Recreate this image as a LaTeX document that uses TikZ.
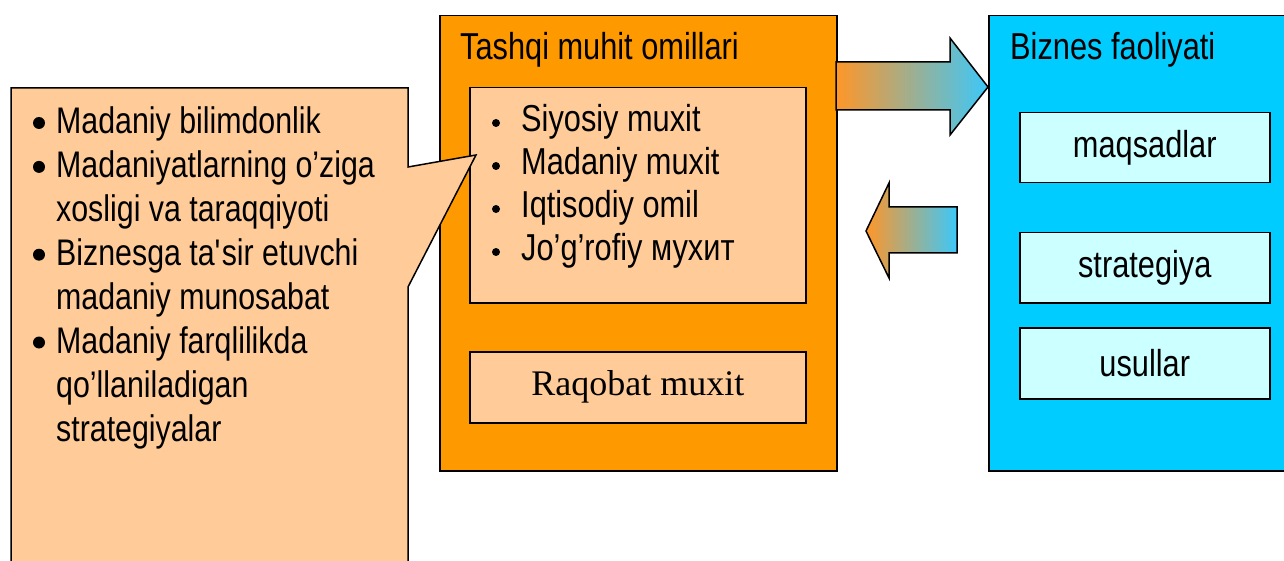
\documentclass[tikz,border=0pt]{standalone}
\usepackage{fontspec}
\setmainfont[FakeStretch=0.82]{Liberation Sans}
\newfontfamily\romanfont{Liberation Serif}
\usetikzlibrary{positioning,calc}

\definecolor{tqorange}{RGB}{255,153,0}
\definecolor{tqpeach}{RGB}{255,204,153}
\definecolor{bzblue}{RGB}{0,204,255}
\definecolor{bzcyan}{RGB}{204,255,255}
\definecolor{arrorange}{RGB}{255,150,40}
\definecolor{arrmid}{RGB}{205,175,170}
\definecolor{arrblue}{RGB}{60,200,250}

\tikzset{
    box/.style={draw=black, line width=1.5pt, anchor=north west, inner sep=0pt},
    bigtext/.style={font=\fontsize{37.5}{44}\selectfont, inner sep=0pt},
    smalltext/.style={font=\fontsize{37}{44}\selectfont, inner sep=0pt},
    blockarrow/.style={draw=black, line width=1.5pt, line join=miter,
        left color=arrorange, middle color=arrmid, right color=arrblue},
}

\begin{document}
\begin{tikzpicture}[x=1pt,y=-1pt]
    \useasboundingbox (0,0) rectangle (1284,561);

    % external factors
    \node[box, fill=tqorange, minimum width=397pt, minimum height=455pt] (tashqi) at (439,15) {};
    \node[bigtext, anchor=base west] (tashqititle) at (460,60) {Tashqi muhit omillari};
    \node[box, fill=tqpeach, minimum width=336pt, minimum height=215pt] (omillar) at (469,87) {};
    \foreach \txt [count=\i from 0] in {Siyosiy muxit, Madaniy muxit, Iqtisodiy omil, Jo’g’rofiy мухит} {
        \node[bigtext, anchor=base west] (om\i) at (521,132+43*\i) {\txt};
        \fill ($(om\i.base west)+(-25,-9)$) circle (4);
    }
    \node[box, fill=tqpeach, minimum width=336pt, minimum height=71pt] (raqobat) at (469,351) {};
    \node[font=\romanfont\fontsize{36}{44}\selectfont, inner sep=0pt] at (raqobat.center) {Raqobat muxit};

    % business activity
    \node[box, fill=bzblue, minimum width=310pt, minimum height=455pt] (biznes) at (988,15) {};
    \node[bigtext, anchor=base west] (biznestitle) at (1010,60) {Biznes faoliyati};
    \node[box, fill=bzcyan, minimum width=250pt, minimum height=70pt] (maqsad) at (1019,112) {};
    \node[bigtext] at (maqsad.center) {maqsadlar};
    \node[box, fill=bzcyan, minimum width=250pt, minimum height=70pt] (strat) at (1019,232) {};
    \node[bigtext] at (strat.center) {strategiya};
    \node[box, fill=bzcyan, minimum width=250pt, minimum height=71pt] (usul) at (1019,327) {};
    \node[bigtext] at (usul.center) {usullar};

    % callout on culture
    \coordinate (tip) at (476,155);
    \draw[fill=tqpeach, line width=1.5pt, line join=miter]
        (11,88) -- (408,88) -- (408,167) -- (tip) -- (408,287) -- (408,575) -- (11,575) -- cycle;
    \foreach \txt/\b [count=\i from 0] in {Madaniy bilimdonlik/1, Madaniyatlarning o’ziga/1,
            xosligi va taraqqiyoti/0, Biznesga ta\textquotesingle sir etuvchi/1, madaniy munosabat/0,
            Madaniy farqlilikda/1, qo’llaniladigan/0, strategiyalar/0} {
        \node[smalltext, anchor=base west] (mad\i) at (56,134+43.9*\i) {\txt};
        \ifnum\b=1
            \fill ($(mad\i.base west)+(-17,-11)$) circle (6);
        \fi
    }

    % arrows between the two blocks
    \draw[blockarrow] (836,62) -- (950,62) -- (950,38) -- (988,87) -- (950,135) -- (950,110) -- (836,110) -- cycle;
    \draw[blockarrow] (957,207) -- (889,207) -- (889,183) -- (866,231) -- (889,278) -- (889,253) -- (957,253) -- cycle;
\end{tikzpicture}
\end{document}
